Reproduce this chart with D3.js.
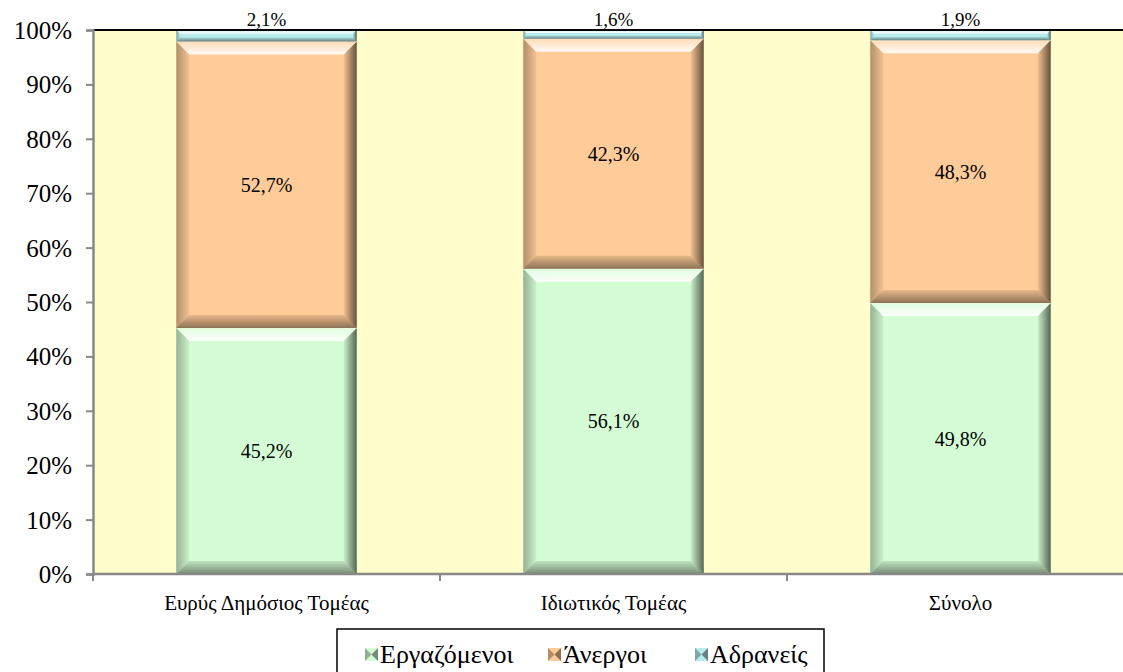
<!DOCTYPE html>
<html><head><meta charset="utf-8">
<script src="https://cdn.jsdelivr.net/npm/d3@7"></script>
</head><body style="margin:0">
<svg id="c" width="1123" height="672" style="display:block"></svg>
<script>
const categories = ["Ευρύς Δημόσιος Τομέας", "Ιδιωτικός Τομέας", "Σύνολο"];
const seriesNames = ["Εργαζόμενοι", "Άνεργοι", "Αδρανείς"];
const employed = [45.2, 56.1, 49.8];
const unemployed = [52.7, 42.3, 48.3];
const inactive = [2.1, 1.6, 1.9];
const yTicks = [0,10,20,30,40,50,60,70,80,90,100];
const colors = ["#D5FDD5", "#FFCC99", "#B8ECEC"];

(function(){
const FF = '"Liberation Serif"';
const svg = d3.select("#c");
const pL = 93, pR = 1134, pT = 30, pB = 574;
const x = d3.scaleBand().domain(categories).range([pL, pR]).paddingInner(0.48).paddingOuter(0.24);
const y = d3.scaleLinear().domain([0, 100]).range([pB, pT]);

const defs = svg.append("defs");
function grad(id, vertical, stops){
  const gg = defs.append("linearGradient").attr("id", id)
    .attr("x1","0").attr("y1","0").attr("x2", vertical ? "0" : "1").attr("y2", vertical ? "1" : "0");
  stops.forEach(s => gg.append("stop").attr("offset", s[0]).attr("stop-color", s[1]).attr("stop-opacity", s[2]));
}
grad("gR", false, [[0,"#000",0.05],[1,"#000",0.6]]);
grad("gL", false, [[0,"#000",0.3],[1,"#000",0.05]]);
grad("gB", true, [[0,"#000",0.1],[1,"#000",0.45]]);
grad("gT", true, [[0,"#fff",0.3],[1,"#fff",0.9]]);

svg.append("rect").attr("x", pL).attr("y", pT).attr("width", 1123 - pL).attr("height", pB - pT).attr("fill", "#FFFDCC");

const rows = categories.map((c,i)=>({cat:c, v:[employed[i], unemployed[i], inactive[i]]}));
const g = svg.append("g");
const P = pts => pts.map(p => p.join(",")).join(" ");
rows.forEach(r => {
  let acc = 0;
  r.v.forEach((v, si) => {
    const y0 = y(acc + v), y1 = y(acc);
    acc += v;
    const bx = x(r.cat), bw = x.bandwidth(), by = y0, bh = y1 - y0;
    const b = Math.min(13, bh / 3);
    const sg = g.append("g");
    sg.append("rect").attr("x", bx).attr("y", by).attr("width", bw).attr("height", bh).attr("fill", colors[si]);
    sg.append("polygon").attr("points", P([[bx,by],[bx+bw,by],[bx+bw-b,by+b],[bx+b,by+b]])).attr("fill","url(#gT)");
    sg.append("polygon").attr("points", P([[bx,by],[bx+b,by+b],[bx+b,by+bh-b],[bx,by+bh]])).attr("fill","url(#gL)");
    sg.append("polygon").attr("points", P([[bx+bw,by],[bx+bw,by+bh],[bx+bw-b,by+bh-b],[bx+bw-b,by+b]])).attr("fill","url(#gR)");
    sg.append("polygon").attr("points", P([[bx,by+bh],[bx+bw,by+bh],[bx+bw-b,by+bh-b],[bx+b,by+bh-b]])).attr("fill","url(#gB)");
    const lbl = v.toFixed(1).replace(".", ",") + "%";
    const ly = si === 2 ? pT - 4 : (y0 + y1) / 2 + 7;
    svg.append("text").attr("x", bx + bw/2).attr("y", ly).attr("text-anchor","middle")
      .style("font-family", FF).style("font-size", (si===2 ? 19 : 20) + "px").attr("fill","#000").text(lbl);
  });
});

svg.append("line").attr("x1", pL).attr("x2", 1123).attr("y1", pT).attr("y2", pT).attr("stroke", "#000").attr("stroke-width", 2);

const yAxis = svg.append("g").attr("transform", `translate(${pL},0)`)
  .call(d3.axisLeft(y).tickValues(yTicks).tickFormat(d => d + "%").tickSize(7).tickPadding(14));
yAxis.select(".domain").attr("stroke", "#888").attr("stroke-width", 2.5);
yAxis.selectAll(".tick line").attr("stroke", "#888").attr("stroke-width", 2);
yAxis.selectAll("text").style("font-family", FF).style("font-size", "25px").attr("fill", "#000").attr("dy", "0.34em");

const xAxis = svg.append("g").attr("transform", `translate(0,${pB})`);
xAxis.append("line").attr("x1", pL).attr("x2", 1123).attr("stroke", "#888").attr("stroke-width", 2.5);
const bounds = [pL, ...categories.map(c => x(c) + x.bandwidth() + x.step()*x.paddingInner()/2)];
xAxis.selectAll("line.t").data(bounds).enter().append("line").attr("class","t")
  .attr("x1", d => d).attr("x2", d => d).attr("y1", 0).attr("y2", 7).attr("stroke", "#888").attr("stroke-width", 2);
xAxis.selectAll("text").data(categories).enter().append("text")
  .attr("x", d => x(d) + x.bandwidth()/2).attr("y", 36).attr("text-anchor","middle")
  .style("font-family", FF).style("font-size", "21px").attr("fill","#000").text(d => d);

const lg = svg.append("g");
lg.append("rect").attr("x", 337).attr("y", 629).attr("width", 487).attr("height", 60).attr("fill","#fff").attr("stroke","#000").attr("stroke-width", 1.5);
const lx = [365, 548, 695];
seriesNames.forEach((n, i) => {
  const mx = lx[i], my = 648;
  lg.append("rect").attr("x", mx).attr("y", my).attr("width", 13).attr("height", 13).attr("fill", colors[i]);
  lg.append("polygon").attr("points", `${mx},${my} ${mx+6.5},${my+6.5} ${mx},${my+13}`).attr("fill","#000").attr("opacity",0.3);
  lg.append("polygon").attr("points", `${mx+13},${my} ${mx+6.5},${my+6.5} ${mx+13},${my+13}`).attr("fill","#000").attr("opacity",0.45);
  lg.append("text").attr("x", mx + 15).attr("y", 663).style("font-family", FF).style("font-size", "26px").attr("fill","#000").text(n);
});
})();
</script>
</body></html>
